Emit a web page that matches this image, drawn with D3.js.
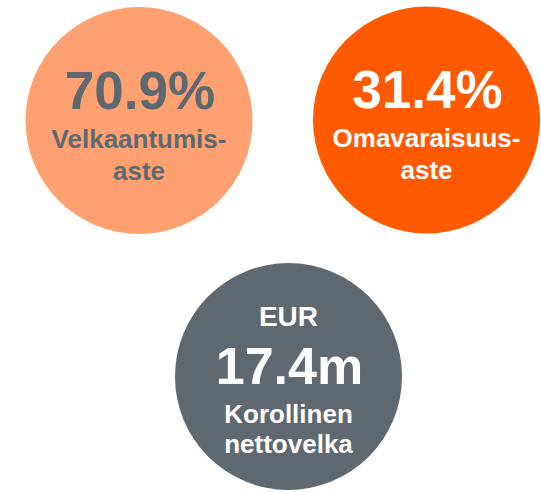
<!DOCTYPE html>
<html lang="en">
  <head>
    <meta charset="UTF-8" />
    <title>Tunnusluvut</title>
    <script src="https://d3js.org/d3.v7.min.js"></script>
    <style>
      body { margin: 0; background: #fff; }
      text { font-family: "Liberation Sans", Arial, sans-serif; font-weight: bold; }
    </style>
  </head>
  <body>
    <svg width="541" height="492"></svg>

    <script>
      // key figures
      var values = [70.9, 31.4, 17.4];
      var units = ["%", "%", "m"];
      var prefixes = ["", "", "EUR"];
      var labels = [
        ["Velkaantumis-", "aste"],
        ["Omavaraisuus-", "aste"],
        ["Korollinen", "nettovelka"]
      ];
      var fills = ["#ffa070", "#ff5a00", "#5e6870"];
      var inks = ["#5e6870", "#ffffff", "#ffffff"];

      var svg = d3.select("svg");
      var fmt = d3.format(".1f");
      var r = 113.5;

      // two circles on top, one below in the middle
      var centers = [
        [139, 120.5],
        [426.5, 120],
        [288.5, 376.5]
      ];

      var g = svg
        .selectAll("g.fig")
        .data(values)
        .enter()
        .append("g")
        .attr("class", "fig")
        .attr("transform", function (d, i) {
          return "translate(" + centers[i][0] + "," + centers[i][1] + ")";
        });

      g.append("circle")
        .attr("r", r)
        .attr("fill", function (d, i) { return fills[i]; });

      g.each(function (d, i) {
        var el = d3.select(this);
        var hasPrefix = prefixes[i] !== "";
        // vertical offsets (baselines) relative to circle centre
        var yVal = hasPrefix ? 7.5 : -12;
        var yLab = hasPrefix ? 46.5 : 27;
        var step = hasPrefix ? 30 : 32;

        if (hasPrefix) {
          el.append("text")
            .attr("text-anchor", "middle")
            .attr("y", -50.5)
            .attr("font-size", 28)
            .attr("fill", inks[i])
            .text(prefixes[i]);
        }

        el.append("text")
          .attr("text-anchor", "middle")
          .attr("x", 1)
          .attr("y", yVal)
          .attr("font-size", hasPrefix ? 52 : 53)
          .attr("fill", inks[i])
          .text(fmt(d) + units[i]);

        el.selectAll("text.lab")
          .data(labels[i])
          .enter()
          .append("text")
          .attr("class", "lab")
          .attr("text-anchor", "middle")
          .attr("y", function (t, j) { return yLab + j * step; })
          .attr("font-size", 26)
          .attr("fill", inks[i])
          .text(function (t) { return t; });
      });
    </script>
  </body>
</html>
